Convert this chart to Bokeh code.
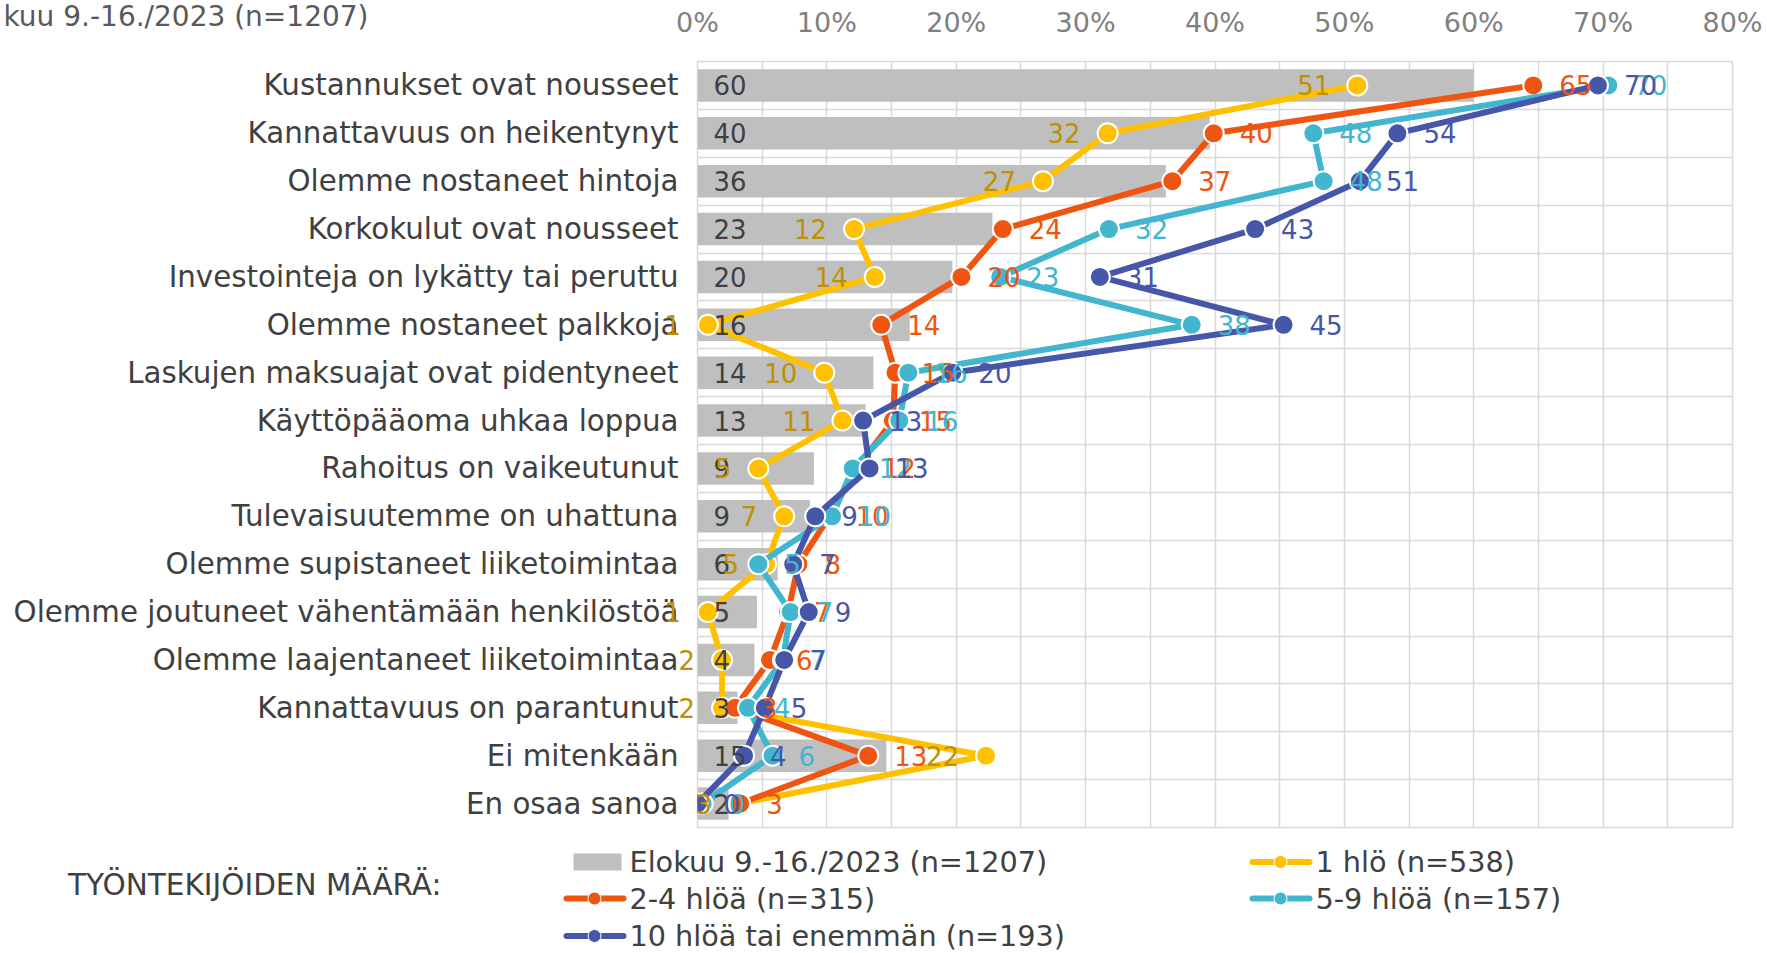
from bokeh.plotting import figure
from bokeh.models import Range1d, FixedTicker, PrintfTickFormatter
from bokeh.embed import file_html
from bokeh.resources import INLINE
from bokeh.core.properties import value

# ---------------- data ----------------
categories = [
    "Kustannukset ovat nousseet",
    "Kannattavuus on heikentynyt",
    "Olemme nostaneet hintoja",
    "Korkokulut ovat nousseet",
    "Investointeja on lykätty tai peruttu",
    "Olemme nostaneet palkkoja",
    "Laskujen maksuajat ovat pidentyneet",
    "Käyttöpääoma uhkaa loppua",
    "Rahoitus on vaikeutunut",
    "Tulevaisuutemme on uhattuna",
    "Olemme supistaneet liiketoimintaa",
    "Olemme joutuneet vähentämään henkilöstöä",
    "Olemme laajentaneet liiketoimintaa",
    "Kannattavuus on parantunut",
    "Ei mitenkään",
    "En osaa sanoa",
]
total_all = [60.0, 39.6, 36.2, 22.8, 19.7, 16.4, 13.6, 13.0, 9.0, 8.7, 6.2, 4.6, 4.4, 3.1, 14.6, 2.4]
hlo_1 = [51.0, 31.7, 26.7, 12.1, 13.7, 0.8, 9.8, 11.2, 4.7, 6.7, 5.3, 0.8, 1.9, 1.9, 22.3, 3.2]
hlo_2_4 = [64.6, 39.9, 36.7, 23.6, 20.4, 14.2, 15.3, 15.1, 12.3, 10.2, 7.8, 7.0, 5.6, 2.9, 13.2, 3.3]
hlo_5_9 = [70.4, 47.6, 48.4, 31.8, 23.4, 38.2, 16.3, 15.6, 12.0, 10.4, 4.7, 7.2, 6.6, 3.9, 5.8, 0.4]
hlo_10 = [69.6, 54.1, 51.2, 43.1, 31.1, 45.3, 19.7, 12.8, 13.3, 9.1, 7.4, 8.6, 6.7, 5.2, 3.6, 0.0]

x_ticks = [0, 10, 20, 30, 40, 50, 60, 70, 80]
chart_title = "kuu 9.-16./2023 (n=1207)"
legend_title = "TYÖNTEKIJÖIDEN MÄÄRÄ:"
legend_labels = ["Elokuu 9.-16./2023 (n=1207)", "1 hlö (n=538)", "2-4 hlöä (n=315)",
                 "5-9 hlöä (n=157)", "10 hlöä tai enemmän (n=193)"]

# ---------------- style / layout ----------------
FONT = "DejaVu Sans"
W, H = 1767, 953
FL, FR, FT, FB = 697, 1732, 61, 827          # plot frame edges on the page
XMIN, XMAX = 0, 80
BAR = "#BFBFBF"
GRID = "#D9D9D9"
TXT = "#404040"
C_Y, C_O, C_C, C_B = "#FFC000", "#EF5410", "#41B6CE", "#4656A8"
L_Y = "#BF9000"

n = len(categories)
ypos = [n - i for i in range(n)]
Y0, Y1 = 0.5, n + 0.5


def lab(vals):
    return [str(int(round(v))) for v in vals]


p = figure(width=W, height=H, x_range=Range1d(XMIN, XMAX), y_range=Range1d(Y0, Y1),
           x_axis_location="above", output_backend="svg", toolbar_location=None,
           min_border_left=FL, min_border_right=W - FR, min_border_top=FT,
           min_border_bottom=H - FB, outline_line_color=GRID, outline_line_width=1.5)

p.xaxis.ticker = FixedTicker(ticks=x_ticks)
p.xaxis.formatter = PrintfTickFormatter(format="%d%%")
p.xaxis.major_label_text_font = FONT
p.xaxis.major_label_text_font_size = "27px"
p.xaxis.major_label_text_color = "#808080"
p.xaxis.axis_line_color = None
p.xaxis.major_tick_line_color = None
p.xaxis.minor_tick_line_color = None
p.xaxis.major_tick_out = 0
p.xaxis.major_label_standoff = 24

p.yaxis.ticker = FixedTicker(ticks=ypos)
p.yaxis.major_label_overrides = {y: c for y, c in zip(ypos, categories)}
p.yaxis.major_label_text_font = FONT
p.yaxis.major_label_text_font_size = "29.3px"
p.yaxis.major_label_text_color = TXT
p.yaxis.axis_line_color = None
p.yaxis.major_tick_line_color = None
p.yaxis.minor_tick_line_color = None
p.yaxis.major_tick_out = 0
p.yaxis.major_label_standoff = 19

p.xgrid.ticker = FixedTicker(ticks=list(range(0, 81, 5)))
p.ygrid.ticker = FixedTicker(ticks=[k + 0.5 for k in range(n + 1)])
p.grid.grid_line_color = GRID
p.grid.grid_line_width = 1.5

p.hbar(y=ypos, left=0, right=total_all, height=0.68, fill_color=BAR, line_color=None)

for vals, col in [(hlo_1, C_Y), (hlo_2_4, C_O), (hlo_5_9, C_C), (hlo_10, C_B)]:
    p.line(x=vals, y=ypos, line_color=col, line_width=6, line_join="round")
    p.scatter(x=vals, y=ypos, size=20, fill_color=col, line_color="white", line_width=2)

# ---------------- overlay (same data scale, whole page as frame, so labels are not clipped) ----
sx = (FR - FL) / (XMAX - XMIN)
sy = (FB - FT) / (Y1 - Y0)
ov = figure(width=W, height=H,
            x_range=Range1d(XMIN - FL / sx, XMAX + (W - FR) / sx),
            y_range=Range1d(Y0 - (H - FB) / sy, Y1 + FT / sy),
            output_backend="svg", toolbar_location=None, min_border=0,
            x_axis_location=None, y_axis_location=None, outline_line_color=None,
            background_fill_alpha=0, border_fill_alpha=0,
            styles={"margin-top": "-%dpx" % H})
ov.grid.visible = False
ov.extra_x_ranges = {"px": Range1d(0, W)}
ov.extra_y_ranges = {"px": Range1d(H, 0)}

common = dict(text_baseline="middle", text_font=value(FONT), text_font_size="26px")
ov.text(x=[0] * n, y=ypos, text=lab(total_all), x_offset=16, text_align="left",
        text_color=TXT, **common)
ov.text(x=hlo_1, y=ypos, text=lab(hlo_1), x_offset=-27, text_align="right",
        text_color=L_Y, **common)
for vals, col in [(hlo_2_4, C_O), (hlo_5_9, C_C), (hlo_10, C_B)]:
    ov.text(x=vals, y=ypos, text=lab(vals), x_offset=26, text_align="left",
            text_color=col, **common)

px = dict(x_range_name="px", y_range_name="px")
ov.text(x=[3], y=[15.8], text=[chart_title], text_align="left", text_baseline="middle",
        text_font=value(FONT), text_font_size="28px", text_color="#595959", **px)

lcommon = dict(text_baseline="middle", text_font=value(FONT), text_color=TXT, text_align="left")
ov.text(x=[67.6], y=[884.7], text=[legend_title], text_font_size="29.5px", **lcommon, **px)

col_x = [629, 1315]
row_y = [861.5, 898, 935.5]
entries = [(0, 0, None), (1, 0, C_Y), (0, 1, C_O), (1, 1, C_C), (0, 2, C_B)]
for (ci, ri, col), name in zip(entries, legend_labels):
    tx, ty = col_x[ci], row_y[ri]
    if col is None:
        ov.rect(x=[tx - 32], y=[ty], width=48, height=17, fill_color=BAR, line_color=None, **px)
    else:
        ov.line(x=[tx - 63, tx - 6], y=[ty, ty], line_color=col, line_width=6,
                line_cap="round", **px)
        ov.scatter(x=[tx - 35], y=[ty], size=13, fill_color=col, line_color="white",
                   line_width=1, **px)
    ov.text(x=[tx], y=[ty], text=[name], text_font_size="28.7px", **lcommon, **px)

open("out.html", "w").write(file_html([p, ov], INLINE))
